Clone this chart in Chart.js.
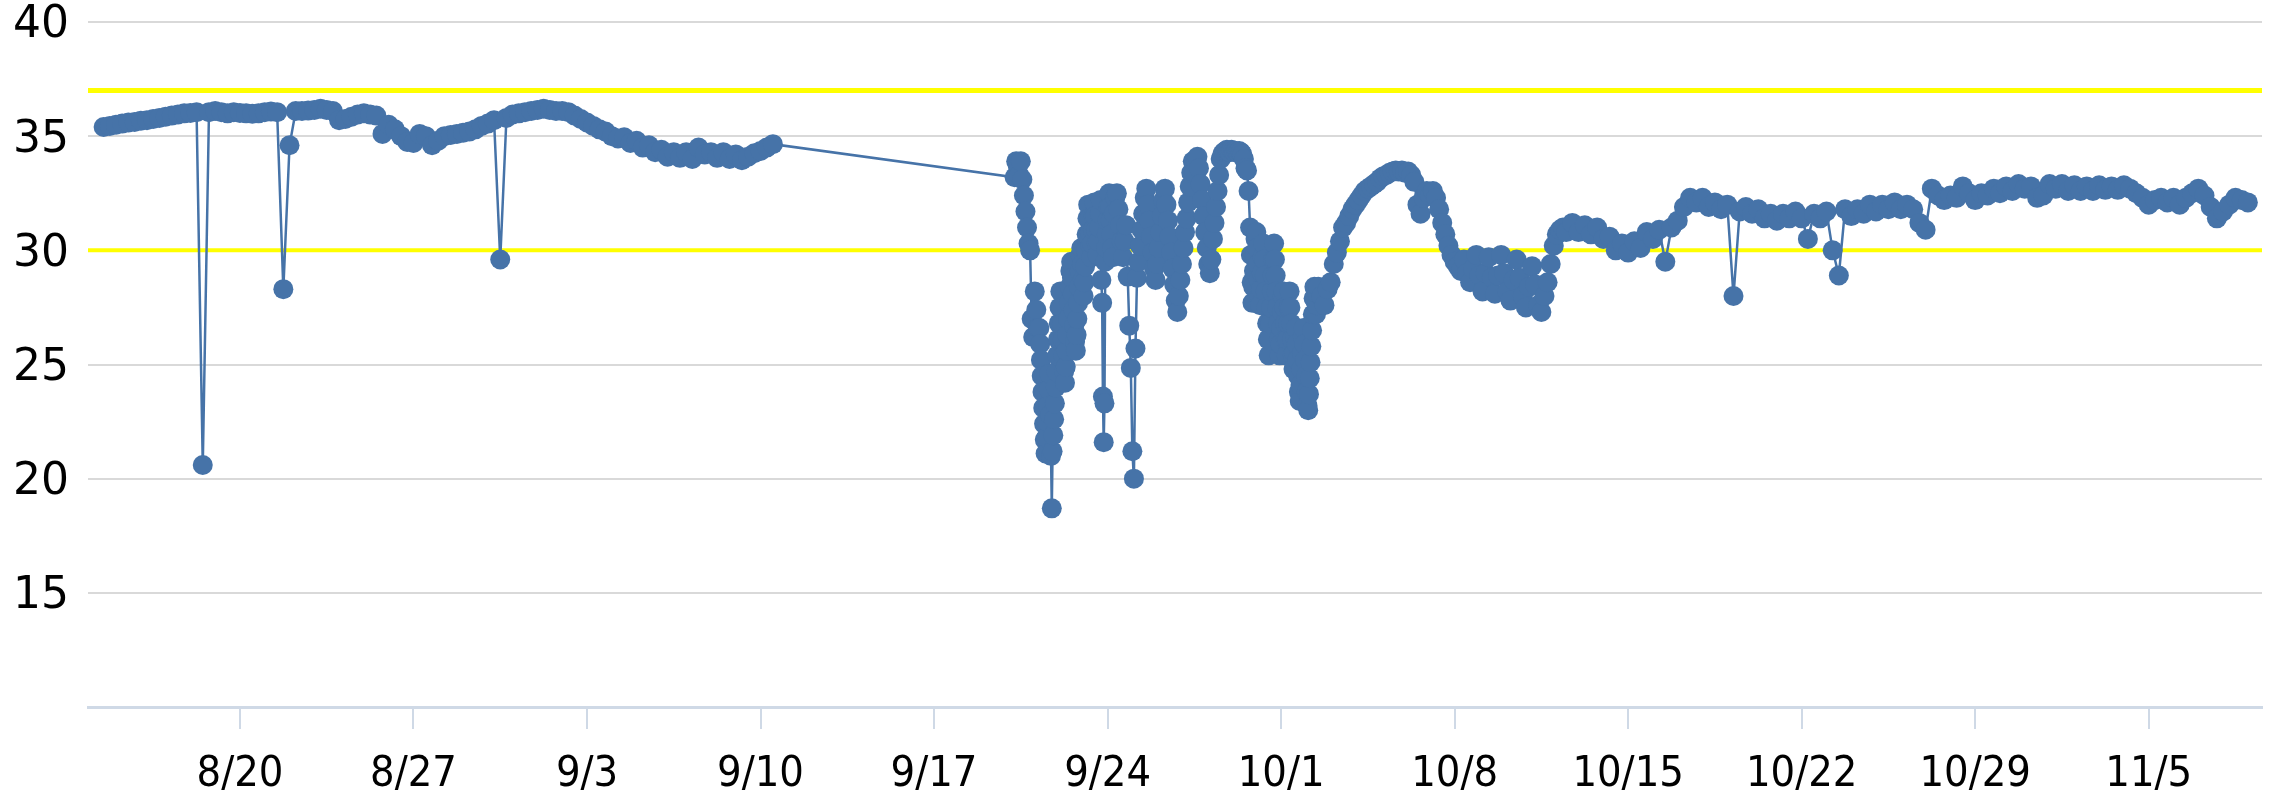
<!DOCTYPE html>
<html>
<head>
<meta charset="utf-8">
<title>Temperature log</title>
<script src="https://cdn.jsdelivr.net/npm/chart.js@4/dist/chart.umd.min.js"></script>
<style>
  html, body { margin:0; padding:0; background:#fff; }
  #wrap { width:2274px; height:796px; }
</style>
</head>
<body>
<div id="wrap"><canvas id="chart" width="2274" height="796"></canvas></div>
<script>
/* Data – x is days since 8/20 00:00 */
const tickLabels = ["8/20","8/27","9/3","9/10","9/17","9/24","10/1","10/8","10/15","10/22","10/29","11/5"];
const tickDays   = [0,7,14,21,28,35,42,49,56,63,70,77];

const upperLimit = 37;
const lowerLimit = 30;

// 8/14 12:00 -> 9/10 12:00, one reading every 6 h (one row = one day)
const seg1Start = -5.5, seg1Step = 0.25;
const seg1Temps = [
  35.4, 35.45, 35.5, 35.55,
  35.6, 35.62, 35.68, 35.7,
  35.75, 35.8, 35.85, 35.9,
  35.95, 36.0, 36.02, 36.05,
  20.6, 36.05, 36.1, 36.05,
  36.0, 36.05, 36.02, 36.0,
  35.98, 36.0, 36.05, 36.08,
  36.05, 28.3, 34.6, 36.1,
  36.1, 36.12, 36.15, 36.2,
  36.15, 36.1, 35.7, 35.75,
  35.85, 35.95, 36.0, 35.95,
  35.9, 35.1, 35.5, 35.3,
  35.0, 34.75, 34.7, 35.1,
  35.0, 34.6, 34.8, 35.0,
  35.05, 35.1, 35.15, 35.2,
  35.3, 35.45, 35.55, 35.7,
  29.6, 35.8, 35.95, 36.0,
  36.05, 36.1, 36.15, 36.2,
  36.15, 36.1, 36.1, 36.05,
  35.9, 35.75, 35.6, 35.45,
  35.3, 35.2, 35.0, 34.9,
  34.95, 34.7, 34.8, 34.5,
  34.6, 34.3, 34.4, 34.1,
  34.3, 34.05, 34.3, 34.0,
  34.5, 34.2, 34.3, 34.05,
  34.3, 34.0, 34.2, 33.95,
  34.1, 34.25, 34.35, 34.5,
  34.65
];

// 9/20 06:00 -> 9/21 04:30, one reading every 1.5 h
const seg2Start = 31.25, seg2Step = 0.0625;
const seg2Temps = [
  33.2, 33.9, 33.7, 33.3, 33.9, 33.1, 32.4, 31.7, 31.0, 30.3, 30.0, 27.0, 26.2, 28.2, 27.4, 26.6
];

// 9/21 06:00 -> 9/24 05:15, one reading every 45 min (two rows = one day)
const seg3Start = 32.25, seg3Step = 0.03125;
const seg3Temps = [
  26.6, 25.9, 25.2, 24.5, 23.8, 23.1, 22.4, 21.7, 21.1, 21.8, 22.5, 23.2, 23.9, 24.6, 22.8, 21.0,
  18.7, 21.2, 21.9, 22.6, 23.3, 24.0, 24.7, 25.4, 26.1, 26.8, 27.5, 28.2, 27.5, 26.8, 26.1, 25.4,
  24.7, 24.2, 24.9, 25.6, 26.3, 27.0, 27.7, 28.4, 29.1, 29.5, 28.8, 28.1, 27.4, 26.7, 26.0, 25.6,
  26.3, 27.0, 27.7, 28.4, 29.1, 29.8, 30.1, 29.4, 28.7, 28.0, 28.6, 29.3, 30.0, 30.7, 31.4, 32.0,
  31.4, 30.8, 30.2, 29.7, 30.3, 30.9, 31.5, 32.1, 31.5, 30.9, 30.3, 29.8, 30.4, 31.0, 31.6, 32.2,
  28.7, 27.7, 23.6, 21.6, 23.3, 29.5, 30.1, 30.7, 31.3, 31.9, 32.5, 31.9, 31.3, 30.7, 30.1, 29.7
];

// 9/24 06:00 -> 9/30 16:30, one reading every 1.5 h (one row = one day)
const seg4Start = 35.25, seg4Step = 0.0625;
const seg4Temps = [
  31.6, 32.3, 32.5, 31.8, 31.1, 30.4, 29.7, 30.4, 31.1, 28.85, 26.7, 24.85, 21.2, 20.0, 25.7, 28.8,
  29.5, 30.2, 30.9, 31.6, 32.3, 32.7, 32.0, 31.3, 30.6, 29.9, 29.2, 28.7, 29.4, 30.1, 30.8, 31.5,
  32.2, 32.7, 32.0, 31.3, 30.6, 29.9, 29.2, 28.5, 27.8, 27.3, 28.0, 28.7, 29.4, 30.1, 30.8, 31.4,
  32.1, 32.8, 33.4, 33.9, 33.4, 33.9, 34.1, 33.6, 32.9, 32.2, 31.5, 30.8, 30.1, 29.4, 29.0, 29.6,
  30.5, 31.2, 31.9, 32.6, 33.3, 34.0, 34.2, 34.3, 34.35, 34.4, 34.35, 34.3, 34.4, 34.35, 34.3, 34.35,
  34.3, 34.35, 34.3, 34.2, 34.0, 33.6, 33.5, 32.6
];

// 9/30 18:00 -> 10/3 12:00, one reading every 45 min (two rows = one day)
const seg5Start = 40.75, seg5Step = 0.03125;
const seg5Temps = [
  31.0, 29.8, 28.6, 27.7, 28.4, 29.1, 29.8, 30.5, 30.8, 30.1, 29.4, 28.7, 28.0, 27.6, 28.3, 29.0,
  29.7, 30.3, 29.6, 28.9, 28.2, 27.5, 26.8, 26.1, 25.4, 26.1, 26.8, 27.5, 28.2, 28.9, 29.6, 30.3,
  29.6, 28.9, 28.2, 27.5, 26.8, 26.1, 25.4, 25.9, 26.6, 27.3, 28.0, 28.2, 27.5, 26.8, 26.1, 25.4,
  26.1, 26.8, 27.5, 28.2, 27.5, 26.8, 26.1, 25.4, 24.8, 25.5, 26.2, 26.6, 25.9, 25.2, 24.5, 23.8,
  23.4, 24.1, 24.8, 25.5, 26.2, 26.6, 25.9, 25.2, 24.5, 23.8, 23.2, 23.0, 23.7, 24.4, 25.1, 25.8,
  26.5, 27.2, 27.9, 28.4, 27.8, 27.2, 27.6, 28.1, 28.4
];

// 10/3 15:00 -> 10/13 12:00, one reading every 3 h (one row = one day)
const seg6Start = 43.625, seg6Step = 0.125;
const seg6Temps = [
  28.0, 27.6, 28.3, 28.6, 29.4, 29.9, 30.4, 31.0,
  31.2, 31.5, 31.8, 32.0, 32.2, 32.4, 32.6, 32.7,
  32.8, 32.9, 33.0, 33.15, 33.25, 33.3, 33.4, 33.45,
  33.5, 33.45, 33.5, 33.4, 33.45, 33.3, 33.0, 32.0,
  31.6, 32.3, 32.6, 32.4, 32.6, 32.3, 31.8, 31.2,
  30.7, 30.2, 29.8, 29.5, 29.3, 29.1, 29.6, 29.0,
  28.6, 29.2, 29.8, 28.9, 28.2, 29.0, 29.7, 28.8,
  28.1, 28.9, 29.8, 29.0, 28.2, 27.8, 28.7, 29.6,
  28.8, 28.0, 27.5, 28.4, 29.3, 28.5, 27.6, 27.3,
  28.0, 28.6, 29.4, 30.2, 30.7, 30.9, 31.0, 30.8
];

// 10/13 18:00 -> 11/9 00:00, one reading every 6 h (one row = one day)
const seg7Start = 53.75, seg7Step = 0.25;
const seg7Temps = [
  31.2, 30.8, 31.1, 30.7,
  31.0, 30.5, 30.6, 30.0,
  30.3, 29.9, 30.4, 30.1,
  30.8, 30.5, 30.9, 29.5,
  31.0, 31.3, 31.9, 32.3,
  32.1, 32.3, 31.9, 32.1,
  31.8, 32.0, 28.0, 31.7,
  31.9, 31.6, 31.8, 31.4,
  31.6, 31.3, 31.6, 31.4,
  31.7, 31.4, 30.5, 31.6,
  31.4, 31.7, 30.0, 28.9,
  31.8, 31.5, 31.8, 31.6,
  32.0, 31.7, 32.0, 31.8,
  32.1, 31.8, 32.0, 31.8,
  31.2, 30.9, 32.7, 32.4,
  32.2, 32.4, 32.3, 32.8,
  32.5, 32.2, 32.5, 32.4,
  32.7, 32.5, 32.8, 32.6,
  32.9, 32.7, 32.8, 32.3,
  32.4, 32.9, 32.7, 32.9,
  32.6, 32.85, 32.6, 32.8,
  32.6, 32.85, 32.65, 32.8,
  32.65, 32.85, 32.7, 32.5,
  32.3, 32.0, 32.2, 32.3,
  32.1, 32.3, 32.0, 32.3,
  32.5, 32.7, 32.4, 31.9,
  31.4, 31.7, 32.0, 32.3,
  32.2, 32.1
];

/* Axis range (days) */
const X_MIN = -6.13, X_MAX = 81.57;

/* Helpers */
const FONT_Y = "'DejaVu Sans', sans-serif";
const FONT_X = "'DejaVu Sans Condensed', 'DejaVu Sans', sans-serif";
const BLUE = "#4673a8";
const toPoints = (start, step, temps) => temps.map((t, i) => ({ x: start + i * step, y: t }));
const flatLine = v => [{ x: X_MIN, y: v }, { x: X_MAX, y: v }];

const series = [
  ...toPoints(seg1Start, seg1Step, seg1Temps),
  ...toPoints(seg2Start, seg2Step, seg2Temps),
  ...toPoints(seg3Start, seg3Step, seg3Temps),
  ...toPoints(seg4Start, seg4Step, seg4Temps),
  ...toPoints(seg5Start, seg5Step, seg5Temps),
  ...toPoints(seg6Start, seg6Step, seg6Temps),
  ...toPoints(seg7Start, seg7Step, seg7Temps)
];

new Chart(document.getElementById("chart"), {
  type: "line",
  data: {
    datasets: [
      {
        data: series,
        borderColor: BLUE,
        backgroundColor: BLUE,
        pointBackgroundColor: BLUE,
        pointBorderWidth: 0,
        pointRadius: 10,
        borderWidth: 2.5,
        tension: 0,
        order: 0
      },
      {
        data: flatLine(upperLimit),
        borderColor: "#ffff00",
        borderWidth: 5,
        pointRadius: 0,
        order: 1
      },
      {
        data: flatLine(lowerLimit),
        borderColor: "#ffff00",
        borderWidth: 4,
        pointRadius: 0,
        order: 1
      }
    ]
  },
  options: {
    responsive: false,
    animation: false,
    devicePixelRatio: 1,
    layout: { padding: { top: 22, right: 12, left: 0, bottom: 0 } },
    plugins: { legend: { display: false }, tooltip: { enabled: false } },
    scales: {
      x: {
        type: "linear",
        min: X_MIN, max: X_MAX,
        afterBuildTicks: ax => { ax.ticks = tickDays.map(v => ({ value: v })); },
        afterFit: ax => { ax.height = 89; },
        ticks: {
          callback: (v, i) => tickLabels[i],
          font: { family: FONT_X, size: 43 },
          color: "#000",
          padding: 20,
          maxRotation: 0,
          autoSkip: false
        },
        grid: { drawOnChartArea: false, drawTicks: true, tickLength: 22, color: "#cfd9e6", lineWidth: 2 },
        border: { display: true, color: "#cfd9e6", width: 3 }
      },
      y: {
        min: 10, max: 40,
        afterFit: ax => { ax.width = 88; ax.paddingTop = 0; ax.paddingBottom = 0; },
        ticks: {
          stepSize: 5,
          callback: v => v === 10 ? "" : v,
          font: { family: FONT_Y, size: 44 },
          color: "#000",
          padding: 19,
          labelOffset: 4
        },
        grid: {
          color: c => c.tick && c.tick.value === 10 ? "rgba(0,0,0,0)" : "#d9d9d9",
          lineWidth: 2,
          drawTicks: false
        },
        border: { display: false }
      }
    }
  }
});
</script>
</body>
</html>
